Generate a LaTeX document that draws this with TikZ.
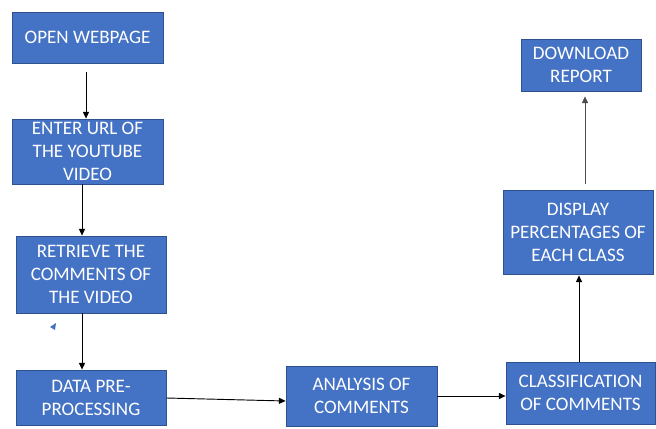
\documentclass[tikz,border=0pt]{standalone}
\usepackage{fontspec}
\setmainfont{Carlito}
\usetikzlibrary{arrows.meta,calc}
\definecolor{boxfill}{HTML}{4472C4}
\definecolor{boxline}{HTML}{2F528F}
\tikzset{
  stepbox/.style={draw=boxline, line width=0.6pt, fill=boxfill, text=white, align=center,
    inner sep=0pt, font=\fontsize{14.3}{17.3}\selectfont},
  arr/.style={draw=black, line width=0.7pt, -{Triangle[length=5pt,width=4.5pt]}}
}
\begin{document}
\begin{tikzpicture}[x=0.75pt,y=-0.75pt]
\useasboundingbox (0,0) rectangle (656,428);
\node[stepbox, minimum width=113.25pt, minimum height=38.25pt] (b1) at (87.5,37.5) {OPEN WEBPAGE};
\node[stepbox, minimum width=113.25pt, minimum height=48.75pt] (b2) at (87.5,151.5) {ENTER URL OF\\THE YOUTUBE\\VIDEO};
\node[stepbox, minimum width=112.5pt, minimum height=57.75pt] (b3) at (91,274.5) {RETRIEVE THE\\COMMENTS OF\\THE VIDEO};
\node[stepbox, minimum width=112.5pt, minimum height=41.25pt] (b4) at (91,397.5) {DATA PRE-\\PROCESSING};
\node[stepbox, minimum width=113.25pt, minimum height=45pt] (b5) at (361.5,396) {ANALYSIS OF\\COMMENTS};
\node[stepbox, minimum width=111.75pt, minimum height=46.5pt] (b6) at (580.5,393) {CLASSIFICATION\\OF COMMENTS};
\node[stepbox, minimum width=112.5pt, minimum height=63pt] (b7) at (578,232) {DISPLAY\\PERCENTAGES OF\\EACH CLASS};
\node[stepbox, minimum width=90pt, minimum height=39pt] (b8) at (581,65) {DOWNLOAD\\REPORT};
\draw[arr] ($(b1.south)+(-1.5,9)$) -- ($(b2.north)+(-1.5,0)$);
\draw[arr] ($(b2.south)+(-5.5,0)$) -- ($(b3.north)+(-9,0)$);
\draw[arr] ($(b3.south)+(-9,0)$) -- ($(b4.north)+(-9,0)$);
\draw[arr] ($(b4.east)+(0,0.5)$) -- ($(b5.west)+(0,5)$);
\draw[arr] (b5.east) -- ($(b6.west)+(0,3)$);
\draw[arr] ($(b6.north)+(-1.5,0)$) -- ($(b7.south)+(1,1)$);
\draw[arr, draw=black!70] ($(b7.north)+(7,-6)$) -- ($(b8.south)+(4,5)$);
\fill[boxfill] (50,327) -- (56,323) -- (55,330) -- cycle;
\end{tikzpicture}
\end{document}
